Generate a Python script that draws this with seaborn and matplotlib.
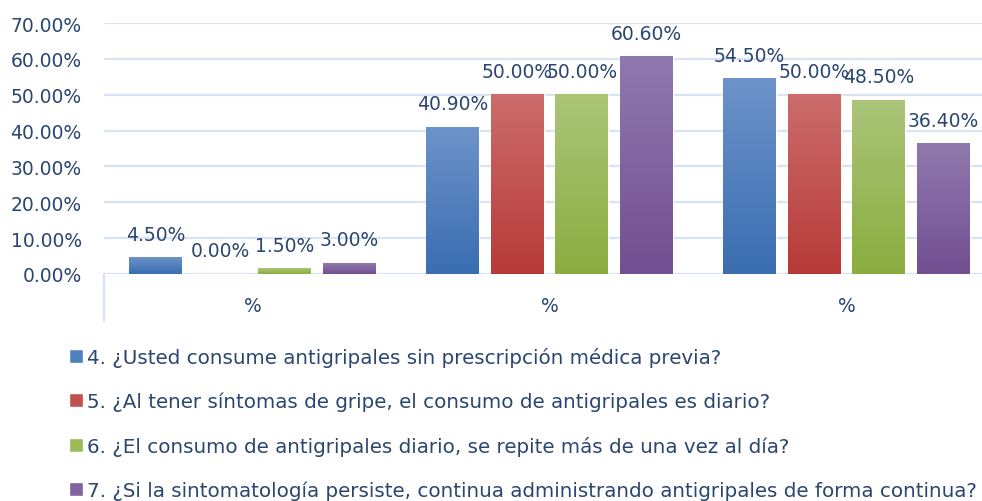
# Gráfico de barras agrupadas: consumo de antigripales
import numpy as np
import pandas as pd
import matplotlib
matplotlib.use("Agg")
import matplotlib.pyplot as plt
import matplotlib.transforms as mtransforms
from matplotlib.colors import LinearSegmentedColormap
from matplotlib.patches import Rectangle
from matplotlib.ticker import FuncFormatter
import seaborn as sns

# Datos
grupos = ["Grupo 1", "Grupo 2", "Grupo 3"]
etiquetas_x = ["%", "%", "%"]
series = [
    "4. ¿Usted consume antigripales sin prescripción médica previa?",
    "5. ¿Al tener síntomas de gripe, el consumo de antigripales es diario?",
    "6. ¿El consumo de antigripales diario, se repite más de una vez al día?",
    "7. ¿Si la sintomatología persiste, continua administrando antigripales de forma continua?",
]
valores_p4 = [4.5, 40.9, 54.5]
valores_p5 = [0.0, 50.0, 50.0]
valores_p6 = [1.5, 50.0, 48.5]
valores_p7 = [3.0, 60.6, 36.4]

colores = ["#4f81bd", "#c0504d", "#9bbb59", "#8064a2"]
claros = ["#6d93c9", "#cb6d6b", "#aac578", "#9079ad"]
oscuros = ["#3a6db1", "#b73a38", "#8bad40", "#714f91"]
texto = "#2a4670"
rejilla = "#d9e3f1"

df = pd.DataFrame({
    "grupo": grupos * 4,
    "serie": [s for s in series for _ in grupos],
    "valor": valores_p4 + valores_p5 + valores_p6 + valores_p7,
})

sns.set_theme(style="white")
plt.rcParams["font.family"] = ["DejaVu Sans"]

fig = plt.figure(figsize=(9.82, 5.02), dpi=100)
ax = fig.add_axes([104 / 982, 1 - 275 / 502, 891 / 982, 251 / 502])

sns.barplot(data=df, x="grupo", y="valor", hue="serie", hue_order=series,
            palette=colores, saturation=1, width=0.87, gap=0.18,
            legend=False, ax=ax)

# degradado estilo Excel en cada barra
for cont, c1, c2 in zip(ax.containers, oscuros, claros):
    cmap = LinearSegmentedColormap.from_list("g", [c1, c2])
    for p in cont.patches:
        h = p.get_height()
        if h <= 0:
            continue
        x, w = p.get_x(), p.get_width()
        ax.imshow(np.linspace(0, 1, 256).reshape(-1, 1), cmap=cmap,
                  extent=[x, x + w, 0, h], origin="lower",
                  aspect="auto", zorder=p.get_zorder() + 0.1)
    ax.bar_label(cont, fmt="%.2f%%", padding=10, fontsize=13.5, color=texto)

ax.set_xlim(-0.5, 2.5)
ax.set_ylim(0, 70)
ax.set_yticks(range(0, 71, 10))
ax.yaxis.set_major_formatter(FuncFormatter(lambda v, _: f"{v:.2f}%"))
ax.set_xticks(range(len(grupos)))
ax.set_xticklabels(etiquetas_x)
ax.set_xlabel("")
ax.set_ylabel("")
ax.tick_params(axis="both", length=0, labelsize=13.5, labelcolor=texto)
ax.tick_params(axis="x", pad=16)
ax.tick_params(axis="y", pad=16)
ax.yaxis.grid(True, color=rejilla, linewidth=1.6)
ax.set_axisbelow(True)
for s in ax.spines.values():
    s.set_visible(False)

# marca vertical bajo el eje de categorías
trans = mtransforms.blended_transform_factory(ax.transData, ax.transAxes)
ax.plot([-0.5, -0.5], [0, -0.187], transform=trans, color=rejilla,
        linewidth=1.6, clip_on=False)

handles = [Rectangle((0, 0), 1, 1, facecolor=c) for c in colores]
fig.legend(handles, series, loc="upper left", bbox_to_anchor=(69 / 982, 1 - 348 / 502),
           frameon=False, fontsize=14.3, labelcolor=texto, handlelength=0.7,
           handleheight=0.7, handletextpad=0.2, labelspacing=1.24,
           borderpad=0, borderaxespad=0)

fig.savefig("out.png", dpi=100)
